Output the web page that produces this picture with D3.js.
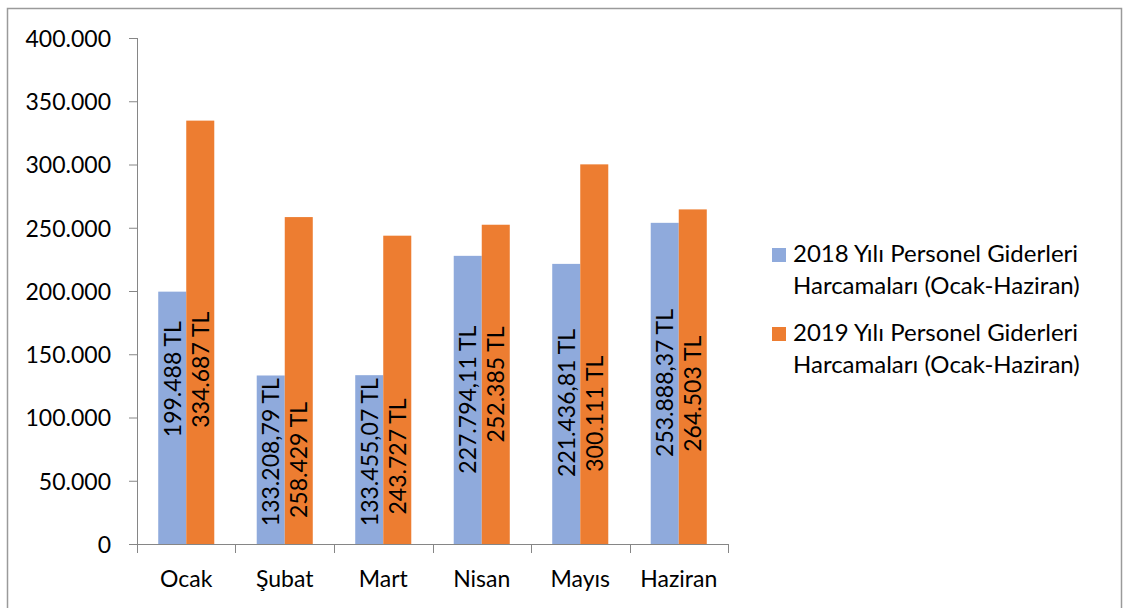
<!DOCTYPE html>
<html>
<head>
<meta charset="utf-8">
<script src="https://cdnjs.cloudflare.com/ajax/libs/d3/7.8.5/d3.min.js"></script>
<style>
    html, body { margin: 0; padding: 0; background: #fff; }
    svg { display: block; font-family: Lato, "Open Sans", sans-serif; }
</style>
</head>
<body>
<svg id="chart"></svg>
<script>
// months (x categories)
var months = ['Ocak', 'Şubat', 'Mart', 'Nisan', 'Mayıs', 'Haziran'];

// personel giderleri, TL
var values2018 = [199488, 133208.79, 133455.07, 227794.11, 221436.81, 253888.37];
var values2019 = [334687, 258429, 243727, 252385, 300111, 264503];

// where the rotated value labels sit, in TL along the value axis
var labelAt2018 = [130300, 72600, 72600, 114100, 111500, 127300];
var labelAt2019 = [137800, 66400, 69200, 126200, 103000, 118800];

var yTicks = [0, 50000, 100000, 150000, 200000, 250000, 300000, 350000, 400000];

var seriesNames = [
    ['2018 Yılı Personel Giderleri', 'Harcamaları (Ocak-Haziran)'],
    ['2019 Yılı Personel Giderleri', 'Harcamaları (Ocak-Haziran)']
];
var seriesColors = ['#8faadc', '#ed7d31'];

(function () {

    var config = {
        width: 1123,
        height: 608,
        left: 137,
        right: 728,
        top: 38,
        bottom: 544,
        axisColor: '#868686',
        fontSize: 23
    };

    // turkish number format: 199.488 / 133.208,79
    var tr = d3.formatLocale({
        decimal: ',',
        thousands: '.',
        grouping: [3],
        currency: ['', ' TL']
    });
    var fmtInt = tr.format(',.0f');
    var fmtDec = tr.format(',.2f');

    function money(v) {
        return (Number.isInteger(v) ? fmtInt(v) : fmtDec(v)) + ' TL';
    }

    var svg = d3.select('#chart')
        .attr('width', config.width)
        .attr('height', config.height);

    // outer chart border, open at the bottom like the cropped original
    svg.append('path')
        .attr('d', 'M7.5,' + (config.height + 2) + 'V8.5H1121.5V' + (config.height + 2))
        .attr('fill', 'none')
        .attr('stroke', '#9a9a9a')
        .attr('stroke-width', 1.5);

    var x0 = d3.scaleBand()
        .domain(months)
        .range([config.left, config.right])
        .paddingInner(0.431)
        .paddingOuter(0.2155);

    var x1 = d3.scaleBand()
        .domain([0, 1])
        .range([0, x0.bandwidth()]);

    var y = d3.scaleLinear()
        .domain([0, 400000])
        .range([config.bottom, config.top]);

    var rows = months.map(function (m, i) {
        return {
            month: m,
            bars: [
                { s: 0, value: values2018[i], at: labelAt2018[i] },
                { s: 1, value: values2019[i], at: labelAt2019[i] }
            ]
        };
    });

    /**
     * Bars
     */
    var groups = svg.append('g').attr('class', 'bars')
        .selectAll('g')
        .data(rows).enter()
        .append('g')
        .attr('transform', function (d) {
            return 'translate(' + x0(d.month) + ',0)';
        });

    groups.selectAll('rect')
        .data(function (d) { return d.bars; })
        .enter().append('rect')
        .attr('x', function (d) { return x1(d.s); })
        .attr('y', function (d) { return y(d.value); })
        .attr('width', x1.bandwidth())
        .attr('height', function (d) { return y(0) - y(d.value); })
        .attr('fill', function (d) { return seriesColors[d.s]; });

    /**
     * Rotated value labels
     */
    groups.selectAll('text')
        .data(function (d) { return d.bars; })
        .enter().append('text')
        .attr('transform', function (d) {
            return 'translate(' + (x1(d.s) + x1.bandwidth() / 2) + ',' + y(d.at) + ') rotate(-90)';
        })
        .attr('text-anchor', 'middle')
        .attr('dy', '0.36em')
        .style('font-size', config.fontSize + 'px')
        .attr('fill', '#000')
        .text(function (d) { return money(d.value); });

    /**
     * Y axis
     */
    var yAxis = svg.append('g')
        .attr('class', 'y-axis')
        .attr('transform', 'translate(' + config.left + ',0)')
        .call(d3.axisLeft(y)
            .tickValues(yTicks)
            .tickSize(8)
            .tickPadding(18)
            .tickFormat(tr.format(',')));

    yAxis.select('.domain').attr('stroke', config.axisColor).attr('d',
        'M0.5,' + config.top + 'V' + config.bottom);
    yAxis.selectAll('.tick line').attr('stroke', config.axisColor);
    yAxis.selectAll('.tick text')
        .attr('fill', '#000')
        .attr('dy', '0.36em')
        .style('font-family', 'Lato, sans-serif')
        .style('font-size', config.fontSize + 'px');

    /**
     * X axis, ticks between the categories
     */
    var xAxis = svg.append('g')
        .attr('class', 'x-axis')
        .attr('transform', 'translate(0,' + config.bottom + ')');

    xAxis.append('line')
        .attr('x1', config.left).attr('x2', config.right)
        .attr('y1', 0.5).attr('y2', 0.5)
        .attr('stroke', config.axisColor);

    var edges = months.map(function (m) { return x0(m) - x0.step() * 0.2155; });
    edges.push(config.right);

    xAxis.selectAll('.edge')
        .data(edges).enter()
        .append('line')
        .attr('class', 'edge')
        .attr('x1', function (d) { return Math.round(d) + 0.5; })
        .attr('x2', function (d) { return Math.round(d) + 0.5; })
        .attr('y1', 0).attr('y2', 9)
        .attr('stroke', config.axisColor);

    xAxis.selectAll('.month')
        .data(months).enter()
        .append('text')
        .attr('class', 'month')
        .attr('x', function (d) { return x0(d) + x0.bandwidth() / 2; })
        .attr('y', 43)
        .attr('text-anchor', 'middle')
        .style('font-size', config.fontSize + 'px')
        .text(function (d) { return d; });

    /**
     * Legend
     */
    var legend = svg.append('g')
        .attr('class', 'legend')
        .attr('transform', 'translate(772,248)');

    var items = legend.selectAll('g')
        .data(seriesNames).enter()
        .append('g')
        .attr('transform', function (d, i) {
            return 'translate(0,' + (i * 79) + ')';
        });

    items.append('rect')
        .attr('width', 14).attr('height', 14)
        .attr('fill', function (d, i) { return seriesColors[i]; });

    items.append('text')
        .attr('x', 21)
        .attr('y', 14)
        .style('font-size', '24px')
        .selectAll('tspan')
        .data(function (d) { return d; }).enter()
        .append('tspan')
        .attr('x', 21)
        .attr('dy', function (d, i) { return i === 0 ? 0 : 32; })
        .text(function (d) { return d; });

})();
</script>
</body>
</html>
